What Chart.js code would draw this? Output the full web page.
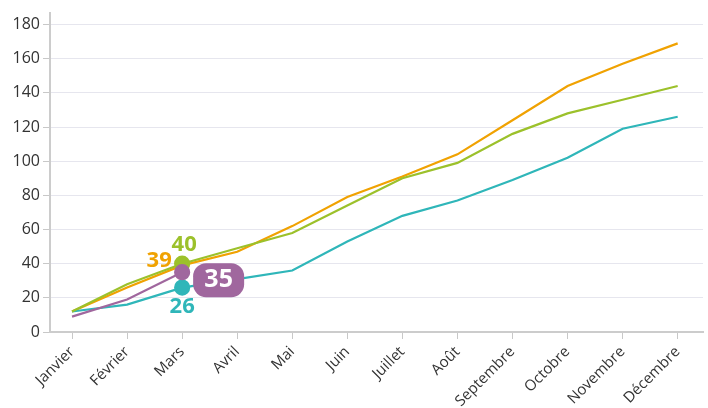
<!DOCTYPE html>
<html>
<head>
<meta charset="utf-8">
<script src="https://cdn.jsdelivr.net/npm/chart.js@4/dist/chart.umd.min.js"></script>
<style>
    body { margin: 0; background: #fff; }
</style>
</head>
<body>
<canvas id="monthly-chart" width="708" height="408"></canvas>
<script>
//DATA
const months = ['Janvier', 'Février', 'Mars', 'Avril', 'Mai', 'Juin', 'Juillet', 'Août', 'Septembre', 'Octobre', 'Novembre', 'Décembre'];
const orangeValues = [12, 26, 39, 47, 62, 79, 91, 104, 124, 144, 157, 169];
const greenValues  = [12, 28, 40, 49, 58, 74, 90, 99, 116, 128, 136, 144];
const tealValues   = [12, 16, 26, 31, 36, 53, 68, 77, 89, 102, 119, 126];
const purpleValues = [9, 19, 35];
const yTicks = [0, 20, 40, 60, 80, 100, 120, 140, 160, 180];
const markedMonth = 2;

(function () {
    'use strict';

    let orange = '#f0a202';
    let green  = '#9cc12b';
    let teal   = '#2fb6b9';
    let purple = '#a0679e';

    function points(values) {
        return values.map(function (v, i) { return {x: i, y: v}; });
    }

    function radius(values, r) {
        return values.map(function (v, i) { return i === markedMonth ? r : 0; });
    }

    //LABELS AT MARS
    let marchLabels = {
        id: 'marchLabels',
        afterDatasetsDraw: function (chart) {
            let ctx = chart.ctx;
            let x = chart.scales.x.getPixelForValue(markedMonth);
            let yScale = chart.scales.y;
            ctx.save();
            ctx.textAlign = 'center';
            ctx.textBaseline = 'middle';
            ctx.font = 'bold 22px "Open Sans", sans-serif';

            ctx.fillStyle = green;
            ctx.fillText(String(greenValues[markedMonth]), x + 2, yScale.getPixelForValue(greenValues[markedMonth]) - 19);

            ctx.fillStyle = orange;
            ctx.fillText(String(orangeValues[markedMonth]), x - 23, yScale.getPixelForValue(orangeValues[markedMonth]) - 5);

            ctx.fillStyle = teal;
            ctx.fillText(String(tealValues[markedMonth]), x, yScale.getPixelForValue(tealValues[markedMonth]) + 19);

            //PURPLE BADGE
            let py = yScale.getPixelForValue(purpleValues[markedMonth]) + 8;
            ctx.fillStyle = purple;
            ctx.beginPath();
            ctx.roundRect(x + 11, py - 17, 51, 34, 13);
            ctx.fill();
            ctx.fillStyle = '#fff';
            ctx.font = 'bold 25px "Open Sans", sans-serif';
            ctx.fillText(String(purpleValues[markedMonth]), x + 36.5, py);
            ctx.restore();
        }
    };

    new Chart(document.getElementById('monthly-chart'), {
        type: 'line',
        data: {
            datasets: [{
                data: points(purpleValues),
                borderColor: purple,
                backgroundColor: purple,
                borderWidth: 2.2,
                pointRadius: radius(purpleValues, 7),
                order: 0
            }, {
                data: points(greenValues),
                borderColor: green,
                backgroundColor: green,
                borderWidth: 2.2,
                pointRadius: radius(greenValues, 7),
                order: 1
            }, {
                data: points(tealValues),
                borderColor: teal,
                backgroundColor: teal,
                borderWidth: 2.2,
                pointRadius: radius(tealValues, 7),
                order: 2
            }, {
                data: points(orangeValues),
                borderColor: orange,
                backgroundColor: orange,
                borderWidth: 2.2,
                pointRadius: 0,
                order: 3
            }]
        },
        options: {
            responsive: false,
            animation: false,
            layout: { autoPadding: false, padding: { top: 12, right: 5, left: 0, bottom: 0 } },
            plugins: {
                legend: { display: false },
                tooltip: { enabled: false }
            },
            scales: {
                x: {
                    type: 'linear',
                    min: -0.4,
                    max: 11.46,
                    afterBuildTicks: function (scale) {
                        scale.ticks = months.map(function (m, i) { return {value: i}; });
                    },
                    afterFit: function (scale) {
                        scale.height = 76;
                        scale.paddingLeft = 0;
                        scale.paddingRight = 0;
                    },
                    ticks: {
                        autoSkip: false,
                        maxRotation: 45,
                        minRotation: 45,
                        padding: 4,
                        color: '#333',
                        font: { family: '"Open Sans", sans-serif', size: 15 },
                        callback: function (value) { return months[value]; }
                    },
                    grid: {
                        drawOnChartArea: false,
                        tickLength: 7,
                        color: '#c8c8c8'
                    },
                    border: { color: '#cccccc', width: 2 }
                },
                y: {
                    min: 0,
                    max: 187,
                    afterBuildTicks: function (scale) {
                        scale.ticks = yTicks.map(function (v) { return {value: v}; });
                    },
                    afterFit: function (scale) { scale.width = 50; },
                    ticks: {
                        padding: 3,
                        color: '#333',
                        font: { family: '"Open Sans", sans-serif', size: 16 }
                    },
                    grid: {
                        color: '#e6e6ee',
                        tickColor: '#c8c8c8',
                        tickLength: 7
                    },
                    border: { color: '#cccccc', width: 2 }
                }
            }
        },
        plugins: [marchLabels]
    });

})();
</script>
</body>
</html>
